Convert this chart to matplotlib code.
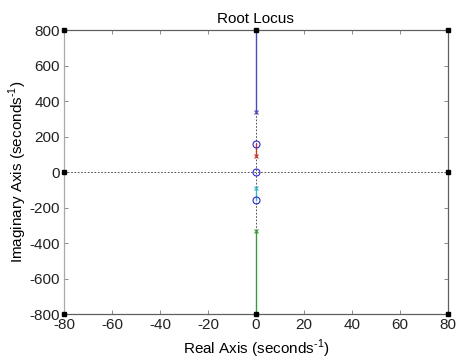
import matplotlib
matplotlib.use("Agg")
import matplotlib.pyplot as plt
import numpy as np

plt.rcParams['font.family'] = ['Liberation Sans', 'DejaVu Sans']
plt.rcParams['axes.unicode_minus'] = False
plt.rcParams['mathtext.fontset'] = 'custom'
plt.rcParams['mathtext.rm'] = 'Liberation Sans'

# data
poles_im = [338, 90, -90, -332]
zeros_im = [158, 0, -158]
branch_start = [338, 90, -90, -332]
branch_end = [800, 158, -158, -800]
branch_colors = ['#4a4ac0', '#c0392b', '#3cb4c8', '#3a9a3a']
corner_x = [-80, 0, 80, -80, 80, -80, 0, 80]
corner_y = [800, 800, 800, 0, 0, -800, -800, -800]
xticks = [-80, -60, -40, -20, 0, 20, 40, 60, 80]
yticks = [-800, -600, -400, -200, 0, 200, 400, 600, 800]

fig = plt.figure(figsize=(4.57, 3.59), dpi=100)
ax = fig.add_axes([0.140, 0.1253, 0.840, 0.7911])

ax.axvline(0, color='#333333', ls=(0, (2, 2)), lw=0.6, zorder=1)
ax.axhline(0, color='#333333', ls=(0, (2, 2)), lw=0.6, zorder=1)

for s, e, c in zip(branch_start, branch_end, branch_colors):
    ax.plot([0, 0], [s, e], color=c, lw=1.0, zorder=2)
for p, c in zip(poles_im, branch_colors):
    ax.plot([0], [p], marker='x', color=c, ms=3, mew=0.8, zorder=3)
for z in zeros_im:
    ax.plot([0], [z], marker='o', mfc='none', mec='#2a2ad0', ms=5, mew=0.8, zorder=3)

ax.plot(corner_x, corner_y, ls='none', marker='s', color='black', ms=3, zorder=4, clip_on=False)

ax.set_xlim(-80, 80)
ax.set_ylim(-800, 800)
ax.set_xticks(xticks)
ax.set_yticks(yticks)
ax.tick_params(direction='in', length=3, width=0.6, color='#777777', labelsize=11,
               top=True, right=True, pad=3, labelcolor='#222222')
for name, sp in ax.spines.items():
    sp.set_color('#a8a8a8' if name == 'left' else '#606060')
    sp.set_linewidth(0.9)

ax.set_title('Root Locus', fontsize=11, pad=5)
ax.set_xlabel(r'Real Axis (seconds$^{\text{-}1}$)', fontsize=11, labelpad=4)
ax.set_ylabel(r'Imaginary Axis (seconds$^{\text{-}1}$)', fontsize=11, labelpad=0)

fig.savefig('out.png', dpi=100)
